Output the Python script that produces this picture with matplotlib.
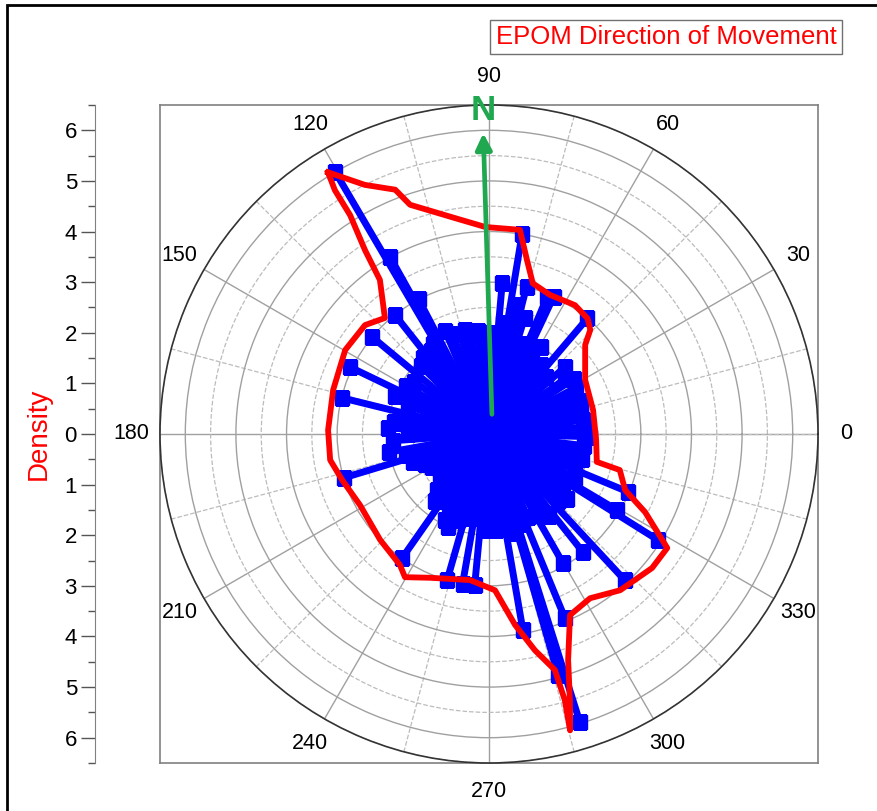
import matplotlib.pyplot as plt
import numpy as np
from matplotlib.ticker import MultipleLocator, FuncFormatter
from matplotlib.patches import Rectangle

plt.rcParams['font.family'] = ['Liberation Sans', 'DejaVu Sans']

# stick directions (deg, counter-clockwise from east) and their density
stick_angles = [120.4, 119.2, 117.6, 128.3, 125, 80.6, 85, 75.7, 67, 64.8,
                49.6, 59.3, 41.4, 140.3, 154.3, 166.2, 176.6, 190.3, 196.8, 235,
                246.2, 254, 260, 264.6, 218, 279.8, 286, 287.5, 292.4, 299.8,
                308.5, 312.9, 327.9, 329.3, 337.4, 358.5, 33, 16, 8.5,
                0, 4, 12, 20, 24, 28, 36, 45, 53, 57,
                62, 70, 73, 78, 83, 88, 92, 96, 100, 103,
                106, 110, 113, 122, 131, 135, 145, 150, 158, 161,
                170, 173, 180, 184, 194, 200, 205, 210, 214, 222,
                227, 231, 240, 243, 250, 257, 267, 270, 274, 277,
                283, 290, 295, 303, 306, 316, 320, 324, 333, 341,
                345, 349, 353]
stick_r = [6.0, 4.0, 3.0, 3.0, 2.0, 4.0, 3.0, 3.0, 2.95, 3.0,
           3.0, 2.0, 2.0, 3.0, 3.05, 3.0, 2.0, 2.0, 3.0, 3.0,
           2.0, 3.0, 3.0, 3.0, 1.06, 3.93, 4.96, 5.97, 3.93, 2.94,
           2.98, 3.94, 3.94, 2.94, 2.98, 2.0, 2.0, 1.9, 1.88,
           1.9, 1.9, 1.85, 1.9, 1.8, 1.95, 1.85, 1.6, 1.7, 1.5,
           1.8, 1.9, 2.4, 2.6, 2.2, 2.0, 2.0, 2.05, 2.0, 2.1,
           2.05, 2.1, 2.2, 2.1, 2.0, 1.9, 1.8, 1.9, 2.0, 1.7,
           1.6, 1.9, 1.6, 1.9, 1.7, 1.6, 1.4, 1.3, 1.2, 1.3,
           1.5, 1.7, 1.6, 1.9, 1.8, 1.7, 1.9, 1.9, 1.9, 1.8,
           2.0, 1.9, 1.8, 1.9, 2.0, 1.9, 2.0, 1.8, 1.9, 1.8,
           1.9, 1.8, 1.9]

# red envelope
env_angles = [121.6, 116.5, 111, 109, 99, 91, 81.4, 77.7, 73.8, 66.3,
              56.3, 49.5, 45.8, 42.8, 29.4, 13, -3.2, -14.5, -15.4, -22.4,
              -26.6, -32.6, -39.4, -50, -58.4, -65.9, -70.7, -73.1, -74.7, -74.1,
              -74.4, -78, -82.2, -87.8, -97.4, -112.3, -120.4, -124.2, -135.8, -151.2,
              -162.6, -170.7, -181.4, -195.8, -210.3, -221.3, -228.1, -234.7, -236, -237.6,
              -237.7, -238.4]
env_r = [6.07, 5.5, 5.17, 4.79, 4.32, 4.09, 4.08, 3.52, 3.1, 3.0,
         3.06, 3.0, 2.87, 2.59, 2.18, 2.11, 2.12, 2.2, 2.68, 2.91,
         3.45, 4.18, 4.17, 4.03, 3.81, 3.92, 4.73, 5.5, 6.07, 5.47,
         4.84, 4.37, 3.81, 3.09, 2.91, 3.07, 3.28, 3.13, 3.0, 2.91,
         3.04, 3.18, 3.18, 3.2, 3.29, 3.26, 3.08, 3.73, 4.38, 5.12,
         5.7, 6.07]

north_angle = 91.1
density_ticks = [-6, -5, -4, -3, -2, -1, 0, 1, 2, 3, 4, 5, 6]

fig = plt.figure(figsize=(8.78, 8.11), dpi=100)

rect = [160 / 878, 48 / 811, 658 / 878, 658 / 811]

# square frame behind the polar plot
frame = fig.add_axes(rect, zorder=0)
frame.set_xticks([])
frame.set_yticks([])
for s in frame.spines.values():
    s.set_color('#808080')
    s.set_linewidth(1.2)

ax = fig.add_axes(rect, projection='polar', zorder=1)
ax.set_ylim(0, 6.5)
ax.set_thetagrids(np.arange(0, 360, 30), labels=[str(a) for a in range(0, 360, 30)],
                  fontsize=15.5)
ax.tick_params(axis='x', pad=10)
ax.set_yticks([1, 2, 3, 4, 5, 6])
ax.set_yticklabels([])
ax.yaxis.set_minor_locator(MultipleLocator(0.5))
ax.xaxis.set_minor_locator(MultipleLocator(np.deg2rad(15)))
ax.grid(which='major', color='#a0a0a0', linestyle='-', linewidth=1.0)
ax.grid(which='minor', color='#bcbcbc', linestyle='--', linewidth=0.9)
ax.tick_params(which='minor', length=0)
ax.spines['polar'].set_color('#333333')
ax.spines['polar'].set_linewidth(1.2)

for a, r in zip(stick_angles, stick_r):
    t = np.deg2rad(a)
    ax.plot([t, t], [0, r], color='#0000ff', linewidth=5, solid_capstyle='butt', zorder=3)
    ax.plot([t], [r], marker='s', color='#0000ff', markersize=10, zorder=3)

et = np.deg2rad(np.array(env_angles + [env_angles[0]]))
er = np.array(env_r + [env_r[0]])
ax.plot(et, er, color='#ff0000', linewidth=4.2, zorder=4, solid_joinstyle='round')

green = '#1fa84f'
tn = np.deg2rad(north_angle)
ax.annotate('', xy=(tn, 6.0), xytext=(np.deg2rad(80), 0.34),
            arrowprops=dict(arrowstyle='-|>', color=green, lw=3.4, mutation_scale=24),
            zorder=5)
ax.text(tn, 6.4, 'N', color=green, fontsize=25, fontweight='bold',
        ha='center', va='center', zorder=6, clip_on=False)

# density axis on the left
dax = fig.add_axes([95 / 878, 48 / 811, 0.0001, 658 / 811])
dax.set_ylim(-6.5, 6.5)
dax.set_xticks([])
dax.set_yticks(density_ticks)
dax.yaxis.set_major_formatter(FuncFormatter(lambda v, p: f'{abs(int(round(v)))}'))
dax.yaxis.set_minor_locator(MultipleLocator(0.5))
dax.tick_params(axis='y', which='major', length=10, width=1, labelsize=16,
                color='#555555', pad=3)
dax.tick_params(axis='y', which='minor', length=5, width=1, color='#555555')
for k in ['top', 'right', 'bottom']:
    dax.spines[k].set_visible(False)
dax.spines['left'].set_color('#808080')
dax.set_ylabel('Density', color='#ff0000', fontsize=20, labelpad=9)

fig.text(666 / 878, 1 - 37 / 811, 'EPOM Direction of Movement', color='#ff0000',
         fontsize=18.5, ha='center', va='center',
         bbox=dict(boxstyle='square,pad=0.2', facecolor='white', edgecolor='#707070'))

fig.patches.append(Rectangle((7 / 878, -0.05), 1.2, 1.05 - 5 / 811,
                             transform=fig.transFigure, fill=False,
                             edgecolor='black', linewidth=2))

fig.savefig('out.png', dpi=100)
